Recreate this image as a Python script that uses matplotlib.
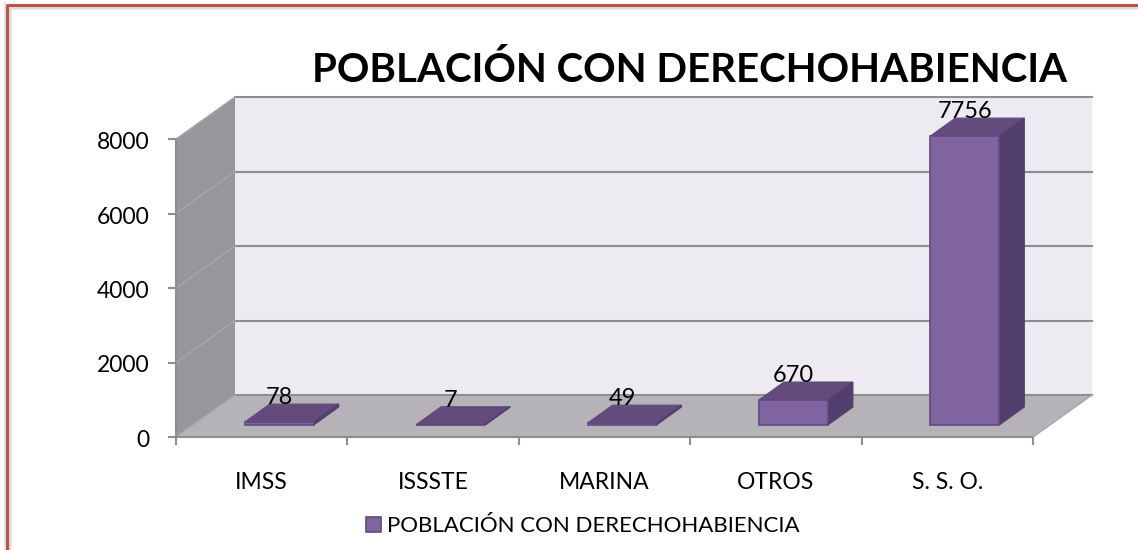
import matplotlib
matplotlib.use('Agg')
import matplotlib.pyplot as plt
import numpy as np
from matplotlib.lines import Line2D
from matplotlib.transforms import ScaledTranslation

plt.rcParams['font.family'] = ['Lato', 'DejaVu Sans']

categories = ['IMSS', 'ISSSTE', 'MARINA', 'OTROS', 'S. S. O.']
values = [78, 7, 49, 670, 7756]
y_ticks = [0, 2000, 4000, 6000, 8000]
series_name = 'POBLACIÓN CON DERECHOHABIENCIA'

W, H = 1138, 550
fig = plt.figure(figsize=(W / 100, H / 100), dpi=100)
# front edge of the floor is 176..1033 px, y 0 at 437 px and 8000 at 139 px
ax = fig.add_axes([176 / W, 1 - 437 / H, 857 / W, 298 / H])
ax.set_xlim(0, 5)
ax.set_ylim(0, 8000)
ax.patch.set_visible(False)

# pixel sizes turned into data units
px_x = 5 / 857
px_y = 8000 / 298
wall_dx, wall_dy = 59 * px_x, 42 * px_y
bar_dx, bar_dy = 25 * px_x, 18 * px_y
bar_w = 69 * px_x
base = 12 * px_y
shift = 17.5 * px_x

grid = '#8e8e8e'
ax.fill([wall_dx, 5 + wall_dx, 5 + wall_dx, wall_dx],
        [wall_dy, wall_dy, 8000 + wall_dy, 8000 + wall_dy],
        color='#edebf1', lw=0, clip_on=False, zorder=1)
ax.fill([0, wall_dx, wall_dx, 0], [0, wall_dy, 8000 + wall_dy, 8000],
        color='#98969a', lw=0, clip_on=False, zorder=1)
ax.fill([0, 5, 5 + wall_dx, wall_dx], [0, 0, wall_dy, wall_dy],
        color='#b5b3b7', lw=0, clip_on=False, zorder=1)

for v in y_ticks:
    ax.plot([wall_dx, 5 + wall_dx], [v + wall_dy, v + wall_dy], color=grid, lw=1.5, clip_on=False, zorder=2)
    ax.plot([0, wall_dx], [v, v + wall_dy], color='#a8a8a8', lw=1, clip_on=False, zorder=2)
ax.plot([5, 5 + wall_dx], [0, wall_dy], color='#a8a8a8', lw=1, clip_on=False, zorder=2)

x = np.arange(len(categories)) + 0.5 + shift
ax.bar(x, values, bar_w, bottom=base, color='#8064a2', edgecolor='#5f4a80', lw=1.2,
       label=series_name, clip_on=False, zorder=4)
for xi, v in zip(x, values):
    l, r = xi - bar_w / 2, xi + bar_w / 2
    top = base + v
    ax.fill([l, r, r + bar_dx, l + bar_dx], [top, top, top + bar_dy, top + bar_dy],
            facecolor='#634b7b', edgecolor='#5f4a80', lw=0.8, clip_on=False, zorder=3)
    ax.fill([r, r + bar_dx, r + bar_dx, r], [base, base + bar_dy, top + bar_dy, top],
            facecolor='#523f6d', edgecolor='#523f6d', lw=0.8, clip_on=False, zorder=3)
    ax.text(xi, top + bar_dy - 4 * px_y, str(v), ha='center', va='bottom', fontsize=17,
            color='black', zorder=5)

for s in ['top', 'right']:
    ax.spines[s].set_visible(False)
for s in ['left', 'bottom']:
    ax.spines[s].set_color(grid)
    ax.spines[s].set_linewidth(1.5)
    ax.spines[s].set_zorder(3)

ax.set_yticks(y_ticks)
ax.set_xticks(range(6))
ax.set_xticklabels([])
ax.set_xticks(np.arange(5) + 0.5, categories, minor=True)
ax.tick_params(axis='both', which='major', length=6, width=1.5, color=grid, labelsize=16.5, pad=13)
ax.tick_params(axis='x', which='minor', length=0, labelsize=16.5, pad=25)
# y labels sit a touch lower than their ticks
for lab in ax.get_yticklabels():
    lab.set_transform(lab.get_transform() + ScaledTranslation(0, -1.5 / 100, fig.dpi_scale_trans))

fig.text(690 / W, 1 - 69.5 / H, series_name, ha='center', va='center', fontsize=29, fontweight='bold', color='black')

ax.legend(loc='center', bbox_to_anchor=(583 / W, 1 - 526.5 / H), bbox_transform=fig.transFigure,
          frameon=False, fontsize=16, handlelength=0.65, handleheight=0.65, handletextpad=0.3, borderpad=0)

# red frame of the picture, soft grey shadow around it
for off, col in [(3.5, '#ececec'), (2.5, '#dcdcdc')]:
    fig.add_artist(Line2D([(7 + off) / W, (7 + off) / W, 1], [0, 1 - (5 + off) / H, 1 - (5 + off) / H],
                          color=col, lw=1.5))
fig.add_artist(Line2D([4.5 / W, 4.5 / W], [0, 1 - 3 / H], color='#e2e2e2', lw=1.5))
fig.add_artist(Line2D([7 / W, 7 / W, 1], [0, 1 - 5 / H, 1 - 5 / H], color='#c0504d', lw=2.2))

fig.savefig('out.png', dpi=100)
